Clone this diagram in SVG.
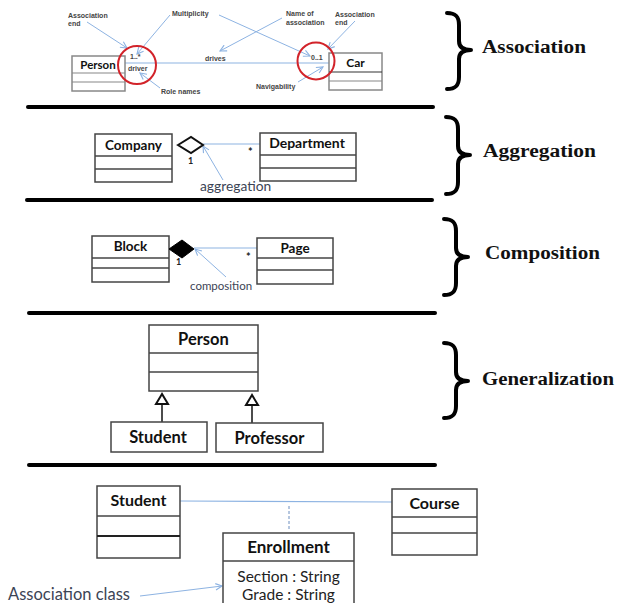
<svg xmlns="http://www.w3.org/2000/svg" width="617" height="603" viewBox="0 0 617 603">
<style>
.box{fill:#fff;stroke:#444;stroke-width:1.5}
.div{stroke:#444;stroke-width:1.5}
.b1{fill:#fff;stroke:#888;stroke-width:1.5}
.d1{stroke:#888;stroke-width:1.2}
.name{font-family:Lato,"Liberation Sans",sans-serif;font-weight:bold;fill:#111;text-anchor:middle}
.call{font-family:"Liberation Sans",Arial,sans-serif;font-weight:bold;font-size:7px;fill:#444}
.lbl{font-family:Lato,"Liberation Sans",sans-serif;fill:#3c4455}
.sec{font-family:"Liberation Serif","Times New Roman",serif;font-weight:bold;font-size:18.5px;fill:#111}
.sep{stroke:#000;stroke-width:4;stroke-linecap:round}
.brace{fill:none;stroke:#000;stroke-width:4;stroke-linecap:round;stroke-linejoin:round}
.con{stroke:#8db3e2;stroke-width:1.2;fill:none}
.ptr{stroke:#8db3e2;stroke-width:1;fill:none;marker-end:url(#arr)}
.ring{fill:none;stroke:#d2232a;stroke-width:2}
</style>
<defs>
<marker id="arr" viewBox="0 0 10 10" refX="9" refY="5" markerWidth="8" markerHeight="8" markerUnits="userSpaceOnUse" orient="auto">
<path d="M1,1 L9,5 L1,9" fill="none" stroke="#8db3e2" stroke-width="1.4"/>
</marker>
</defs>

<!-- separators and braces -->
<g id="separators">
<line class="sep" x1="28" y1="107" x2="433" y2="107"/>
<line class="sep" x1="27" y1="200" x2="432" y2="200"/>
<line class="sep" x1="29" y1="313" x2="435" y2="313"/>
<line class="sep" x1="29" y1="465" x2="435" y2="465"/>
</g>
<g id="braces">
<path class="brace" d="M447,13 C456,13 459,17 459,25 L459,41 C459,47 463,50 471,50 C463,50 459,53 459,59 L459,77 C459,85 456,89 447,89"/>
<path class="brace" d="M446,117 C455,117 458,121 458,129 L458,146 C458,152 462,155 470,155 C462,155 458,158 458,164 L458,182 C458,190 455,194 446,194"/>
<path class="brace" d="M444,219 C453,219 456,223 456,231 L456,248 C456,254 460,257 468,257 C460,257 456,260 456,266 L456,283 C456,291 453,295 444,295"/>
<path class="brace" d="M444,343 C453,343 456,347 456,355 L456,372 C456,378 460,381 468,381 C460,381 456,384 456,390 L456,406 C456,414 453,418 444,418"/>
</g>
<g id="section-labels">
<text class="sec" x="482" y="53" textLength="104" lengthAdjust="spacingAndGlyphs">Association</text>
<text class="sec" x="483" y="157" textLength="113" lengthAdjust="spacingAndGlyphs">Aggregation</text>
<text class="sec" x="485" y="259" textLength="115" lengthAdjust="spacingAndGlyphs">Composition</text>
<text class="sec" x="482" y="385" textLength="132" lengthAdjust="spacingAndGlyphs">Generalization</text>
</g>

<!-- connectors -->
<g id="connectors">
<line class="con" x1="125" y1="63" x2="329" y2="63"/>
<line class="con" x1="203" y1="144" x2="260" y2="144"/>
<line class="con" x1="194" y1="248" x2="257" y2="248"/>
<line x1="162" y1="404" x2="162" y2="422" stroke="#111" stroke-width="1.5"/>
<line x1="252" y1="405" x2="252" y2="423" stroke="#111" stroke-width="1.5"/>
<line class="con" x1="180" y1="501" x2="392" y2="502"/>
<line x1="289" y1="506" x2="289" y2="530" stroke="#6c8ebf" stroke-width="1" stroke-dasharray="3,2"/>
<!-- callout pointers -->
<line class="ptr" x1="87" y1="22" x2="127" y2="48"/>
<line class="ptr" x1="170" y1="15" x2="137" y2="54"/>
<line class="ptr" x1="219" y1="15" x2="310" y2="56"/>
<line class="ptr" x1="282" y1="18" x2="220" y2="51"/>
<line class="ptr" x1="355" y1="21" x2="328" y2="49"/>
<line class="ptr" x1="160" y1="88" x2="140" y2="73"/>
<line class="ptr" x1="298" y1="82" x2="323" y2="67"/>
<line class="ptr" x1="223" y1="180" x2="203" y2="146"/>
<line class="ptr" x1="226" y1="277" x2="195" y2="249"/>
<line class="ptr" x1="140" y1="596" x2="222" y2="586"/>
</g>

<!-- Association section -->
<g id="assoc-person">
<rect class="b1" x="72" y="56" width="53" height="35"/>
<line class="d1" x1="72" y1="73" x2="125" y2="73"/>
<line class="d1" x1="72" y1="82" x2="125" y2="82"/>
<text class="name" x="98" y="69" font-size="11.5">Person</text>
</g>
<g id="assoc-car">
<rect class="b1" x="329" y="53" width="53" height="37"/>
<line x1="329" y1="72" x2="382" y2="72" stroke="#333" stroke-width="1.2"/>
<line class="d1" x1="329" y1="81" x2="382" y2="81"/>
<text class="name" x="355.5" y="67" font-size="12">Car</text>
</g>
<g id="assoc-marks">
<circle class="ring" cx="137" cy="65" r="19"/>
<circle class="ring" cx="316" cy="61" r="18.5"/>
<text class="call" x="130" y="59">1..*</text>
<text class="call" x="128" y="71" font-size="7.5">driver</text>
<text class="call" x="205" y="61" font-size="7.5">drives</text>
<text class="call" x="311" y="60" fill="#888" font-weight="normal">0..1</text>
</g>
<g id="assoc-callouts">
<text class="call" x="68" y="18">Association</text>
<text class="call" x="68" y="26">end</text>
<text class="call" x="172" y="16">Multiplicity</text>
<text class="call" x="286" y="16">Name of</text>
<text class="call" x="286" y="25">association</text>
<text class="call" x="335" y="17">Association</text>
<text class="call" x="335" y="25">end</text>
<text class="call" x="161" y="94">Role names</text>
<text class="call" x="256" y="89">Navigability</text>
</g>

<!-- Aggregation section -->
<g id="company">
<rect class="box" x="95" y="134" width="77" height="48"/>
<line class="div" x1="95" y1="156" x2="172" y2="156"/>
<line class="div" x1="95" y1="169" x2="172" y2="169"/>
<text class="name" x="133.5" y="150" font-size="13.5">Company</text>
</g>
<g id="department">
<rect class="box" x="260" y="133" width="96" height="48"/>
<line class="div" x1="260" y1="155" x2="356" y2="155"/>
<line class="div" x1="260" y1="168" x2="356" y2="168"/>
<text class="name" x="307" y="148" font-size="14">Department</text>
</g>
<g id="aggregation-marks">
<polygon points="178,145 191,137 203,145 191,153" fill="#fff" stroke="#111" stroke-width="2"/>
<text x="188" y="164" font-family="Lato,sans-serif" font-size="9" font-weight="bold" fill="#222">1</text>
<text x="248" y="156" font-family="Lato,sans-serif" font-size="11" font-weight="bold" fill="#222">*</text>
<text class="lbl" x="200" y="191" font-size="13.8">aggregation</text>
</g>

<!-- Composition section -->
<g id="block">
<rect class="box" x="92" y="236" width="77" height="46"/>
<line class="div" x1="92" y1="258" x2="169" y2="258"/>
<line class="div" x1="92" y1="268" x2="169" y2="268"/>
<text class="name" x="130.5" y="251" font-size="13.5">Block</text>
</g>
<g id="page">
<rect class="box" x="257" y="238" width="76" height="46"/>
<line class="div" x1="257" y1="258" x2="333" y2="258"/>
<line class="div" x1="257" y1="270" x2="333" y2="270"/>
<text class="name" x="295" y="253" font-size="13.5">Page</text>
</g>
<g id="composition-marks">
<polygon points="169,249 182,240 194,249 182,258" fill="#000" stroke="#000" stroke-width="1"/>
<text x="176" y="265" font-family="Lato,sans-serif" font-size="9" font-weight="bold" fill="#222">1</text>
<text x="246" y="261" font-family="Lato,sans-serif" font-size="11" font-weight="bold" fill="#222">*</text>
<text class="lbl" x="190" y="290" font-size="11.5">composition</text>
</g>

<!-- Generalization section -->
<g id="gen-person">
<rect class="box" x="149" y="325" width="109" height="66" stroke="#111"/>
<line class="div" x1="149" y1="353" x2="258" y2="353"/>
<line class="div" x1="149" y1="372" x2="258" y2="372"/>
<text class="name" x="203.5" y="345" font-size="16.5">Person</text>
</g>
<g id="gen-arrows">
<polygon points="162,394 156,404 168,404" fill="#fff" stroke="#111" stroke-width="2"/>
<polygon points="252,395 246,405 258,405" fill="#fff" stroke="#111" stroke-width="2"/>
</g>
<g id="gen-student">
<rect class="box" x="111" y="422" width="96" height="30" stroke="#111"/>
<text class="name" x="158" y="443" font-size="16.5">Student</text>
</g>
<g id="gen-professor">
<rect class="box" x="216" y="423" width="107" height="29" stroke="#111"/>
<text class="name" x="269.5" y="444" font-size="16.5">Professor</text>
</g>

<!-- Association class section -->
<g id="ac-student">
<rect class="box" x="97" y="486" width="83" height="72"/>
<line class="div" x1="97" y1="516" x2="180" y2="516"/>
<line x1="97" y1="536" x2="180" y2="536" stroke="#222" stroke-width="2"/>
<text class="name" x="138.5" y="506" font-size="16">Student</text>
</g>
<g id="ac-course">
<rect class="box" x="392" y="489" width="85" height="66"/>
<line class="div" x1="392" y1="517" x2="477" y2="517"/>
<line class="div" x1="392" y1="533" x2="477" y2="533"/>
<text class="name" x="434.5" y="509" font-size="16">Course</text>
</g>
<g id="ac-enrollment">
<rect class="box" x="223" y="533" width="131" height="80"/>
<line class="div" x1="223" y1="561" x2="354" y2="561"/>
<text class="name" x="288.5" y="553" font-size="17">Enrollment</text>
<text x="288.5" y="582" font-family="Lato,sans-serif" font-size="15.5" fill="#222" text-anchor="middle">Section : String</text>
<text x="288.5" y="600" font-family="Lato,sans-serif" font-size="15.5" fill="#222" text-anchor="middle">Grade : String</text>
</g>
<g id="ac-label">
<text class="lbl" x="8" y="600" font-size="16.5">Association class</text>
</g>
</svg>
